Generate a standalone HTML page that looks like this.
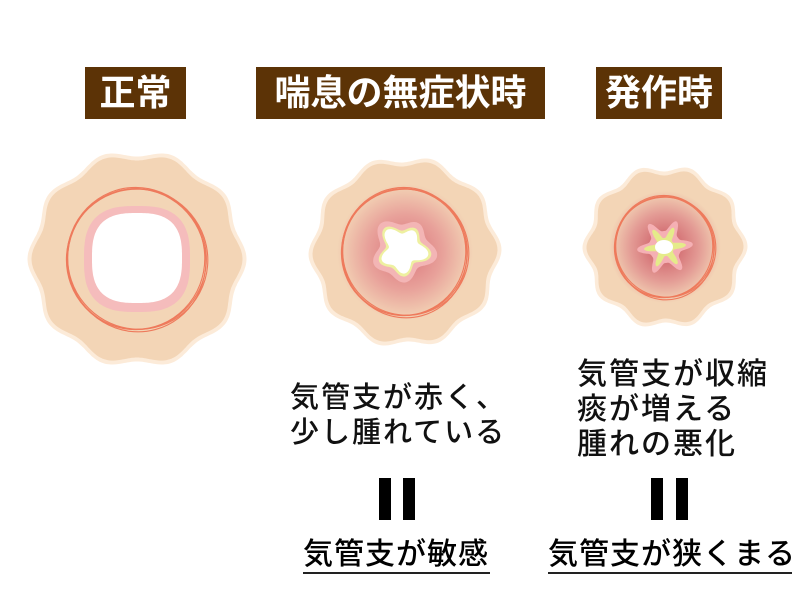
<!DOCTYPE html>
<html><head><meta charset="utf-8"><style>
body{margin:0;width:800px;height:600px;background:#fff;position:relative;overflow:hidden;font-family:"Liberation Sans","Noto Sans CJK JP",sans-serif}
.t{position:absolute;background:#5c3306;color:#fff;font-weight:bold;font-size:36px;line-height:52px;text-align:center;top:67px;height:52px}
.x{position:absolute;color:#111;font-size:29px;line-height:35px;white-space:nowrap;font-weight:500;letter-spacing:2px}
.b{position:absolute;background:#000;width:12px;height:42px;top:478px}
.u{position:absolute;font-size:30px;line-height:34px;white-space:nowrap;border-bottom:2px solid #222;top:538px;font-weight:500;letter-spacing:1px}
svg{position:absolute;left:0;top:0}
</style></head><body>
<svg id="s" width="800" height="600">
<defs>
<radialGradient id="g2" cx="50%" cy="50%" r="50%"><stop offset="0" stop-color="#d9737a"/><stop offset="0.55" stop-color="#e8a19a"/><stop offset="1" stop-color="#f3d5b6"/></radialGradient>
<radialGradient id="g3" cx="50%" cy="50%" r="50%"><stop offset="0" stop-color="#c9545f"/><stop offset="0.6" stop-color="#e39a94"/><stop offset="1" stop-color="#f3d5b6"/></radialGradient>
</defs>
<g id="c"></g>
</svg>
<div class="t" style="left:85px;width:101px">正常</div>
<div class="t" style="left:256px;width:289px">喘息の無症状時</div>
<div class="t" style="left:596px;width:126px">発作時</div>
<div class="x" style="left:290px;top:381px">気管支が赤く、<br>少し腫れている</div>
<div class="x" style="left:577px;top:357px;font-size:30px">気管支が収縮<br>痰が増える<br>腫れの悪化</div>
<div class="b" style="left:379px"></div><div class="b" style="left:403px"></div>
<div class="b" style="left:651px"></div><div class="b" style="left:676px"></div>
<div class="u" style="left:303px;width:187px">気管支が敏感</div>
<div class="u" style="left:548px;width:244px">気管支が狭くまる</div>
<script>
function wave(cx,cy,R,a,n,ph){let d='';for(let i=0;i<=360;i++){let t=i*Math.PI/180;let r=R+a*Math.cos(n*t+ph);d+=(i?'L':'M')+(cx+r*Math.cos(t)).toFixed(1)+' '+(cy+r*Math.sin(t)).toFixed(1);}return d+'Z';}
function blob(cx,cy,f){let d='';for(let i=0;i<=360;i+=2){let t=i*Math.PI/180;let r=f(t);d+=(i?'L':'M')+(cx+r*Math.cos(t)).toFixed(1)+' '+(cy+r*Math.sin(t)).toFixed(1);}return d+'Z';}
function sq(R){const p=2.8;return t=>R/Math.pow(Math.pow(Math.abs(Math.cos(t)),p)+Math.pow(Math.abs(Math.sin(t)),p),1/p);}
let h='';
function rings(cx,cy,r){for(let k=0;k<4;k++){h+=`<ellipse cx="${cx+(k-1.5)*0.8}" cy="${cy+(k%2-0.5)*1.2}" rx="${r+k*0.9-1}" ry="${r-k*0.7+1}" fill="none" stroke="#ee7a5c" stroke-width="1.1" transform="rotate(${k*25} ${cx} ${cy})"/>`;}}
h+=`<path d="${wave(137,259,106,3.5,10,0)}" fill="#fcebd9"/>`;
h+=`<path d="${wave(137,259,102,3.5,10,0)}" fill="#f3d5b6"/>`;
rings(137,259,70);
h+=`<path d="${blob(137,259,sq(53))}" fill="#f5bcbc"/>`;
h+=`<path d="${blob(137,258,sq(45))}" fill="#fff"/>`;
h+=`<path d="${wave(405,252,93,3.5,10,0.3)}" fill="#fcebd9"/>`;
h+=`<path d="${wave(405,252,89,3.5,10,0.3)}" fill="#f3d5b6"/>`;
h+=`<circle cx="405" cy="252" r="68" fill="url(#g2)"/>`;
rings(405,252,63);
h+=`<path d="${blob(403,250,t=>29+4*Math.sin(5*t+0.5)+2*Math.cos(3*t))}" fill="#f3b5b5"/>`;
h+=`<path d="${blob(403,250,t=>23+4*Math.sin(5*t+0.5)+2*Math.cos(3*t))}" fill="#eef0a0"/>`;
h+=`<path d="${blob(403,250,t=>20+4*Math.sin(5*t+0.5)+2*Math.cos(3*t))}" fill="#fff"/>`;
h+=`<path d="${wave(665,247,79,3.5,10,0.1)}" fill="#fcebd9"/>`;
h+=`<path d="${wave(665,247,75,3.5,10,0.1)}" fill="#f3d5b6"/>`;
h+=`<circle cx="665" cy="247" r="56" fill="url(#g3)"/>`;
rings(665,247,50);
h+=`<path d="${blob(665,247,t=>16+12*Math.pow(Math.abs(Math.cos(3*t+0.3)),4))}" fill="#f5b0b4"/>`;
h+=`<path d="${blob(665,247,t=>9+12*Math.pow(Math.abs(Math.cos(3*t+0.3)),4))}" fill="#e5eb8a"/>`;
h+=`<ellipse cx="664" cy="247" rx="9" ry="7" fill="#fff"/>`;
document.getElementById('c').innerHTML=h;
</script>
</body></html>
